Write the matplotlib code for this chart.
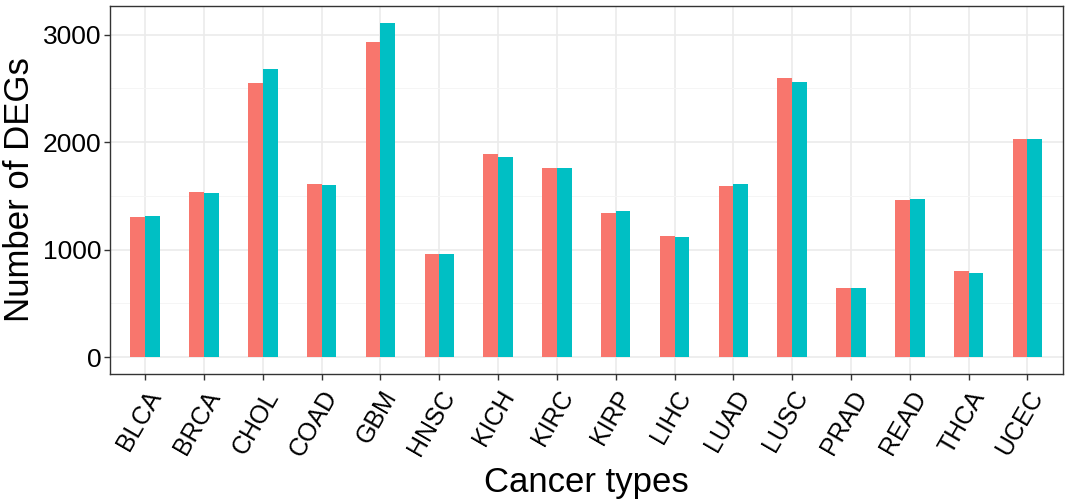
import numpy as np
import matplotlib.pyplot as plt
from matplotlib.ticker import MultipleLocator

plt.rcParams["font.family"] = ["Liberation Sans", "DejaVu Sans"]

cancer_types = ["BLCA", "BRCA", "CHOL", "COAD", "GBM", "HNSC", "KICH", "KIRC",
                "KIRP", "LIHC", "LUAD", "LUSC", "PRAD", "READ", "THCA", "UCEC"]
degs_a = [1299, 1537, 2555, 1611, 2929, 956, 1890, 1760,
          1342, 1129, 1590, 2595, 643, 1460, 804, 2026]
degs_b = [1311, 1525, 2685, 1599, 3112, 956, 1859, 1760,
          1355, 1117, 1612, 2564, 643, 1472, 786, 2026]

RED = "#F8766D"
TEAL = "#00BFC4"

fig = plt.figure(figsize=(10.67, 5.03), dpi=100)
ax = fig.add_axes([0.103, 0.257, 0.893, 0.731])

x = np.arange(1, len(cancer_types) + 1)
w = 0.25
ax.bar(x - w / 2, degs_a, width=w, color=RED, zorder=3)
ax.bar(x + w / 2, degs_b, width=w, color=TEAL, zorder=3)

# ggplot-style expansion: 5% on y, 0.6 units on discrete x
top = max(max(degs_a), max(degs_b))
ax.set_ylim(-0.05 * top, top * 1.05)
ax.set_xlim(0.4, len(cancer_types) + 0.6)

ax.yaxis.set_major_locator(MultipleLocator(1000))
ax.yaxis.set_minor_locator(MultipleLocator(500))
ax.set_xticks(x)
ax.set_xticklabels(cancer_types, rotation=60, ha="right", va="top",
                   rotation_mode="anchor", fontsize=18)
ax.tick_params(axis="y", labelsize=19, length=4, width=1, color="#333333", pad=2)
ax.tick_params(axis="x", length=4, width=1, color="#333333", pad=5)
ax.tick_params(which="minor", length=0)

ax.grid(which="major", color="#EBEBEB", linewidth=1.2, zorder=0)
ax.grid(which="minor", axis="y", color="#F5F5F5", linewidth=0.7, zorder=0)
ax.set_axisbelow(True)

for s in ax.spines.values():
    s.set_color("#333333")
    s.set_linewidth(1)

ax.set_xlabel("Cancer types", fontsize=25, labelpad=4)
ax.set_ylabel("Number of DEGs", fontsize=25, labelpad=5)

fig.savefig("out.png", dpi=100)
